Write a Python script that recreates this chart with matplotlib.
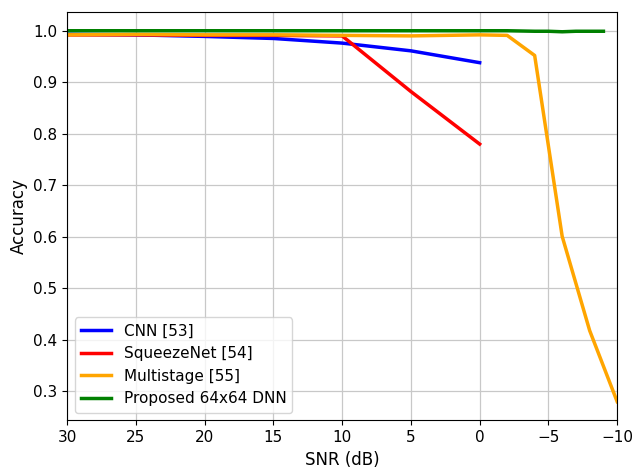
import matplotlib
matplotlib.use("Agg")
import matplotlib.pyplot as plt

snr_cnn = [30, 25, 20, 15, 10, 5, 0]
acc_cnn = [0.993, 0.992, 0.989, 0.985, 0.976, 0.961, 0.938]

snr_squeeze = [30, 25, 20, 15, 10, 5, 0]
acc_squeeze = [0.992, 0.992, 0.991, 0.991, 0.990, 0.882, 0.780]

snr_multi = [30, 25, 20, 15, 10, 5, 0, -2, -4, -6, -8, -10]
acc_multi = [0.992, 0.993, 0.992, 0.992, 0.991, 0.990, 0.992, 0.991, 0.952, 0.601, 0.418, 0.280]

snr_prop = [30, 25, 20, 15, 10, 5, 0, -2, -4, -5, -6, -7, -8, -9]
acc_prop = [1.0, 1.0, 1.0, 1.0, 1.0, 1.0, 1.0, 1.0, 0.999, 0.999, 0.998, 0.999, 0.999, 0.999]

fig = plt.figure(figsize=(6.33, 4.69), dpi=100)
ax = fig.add_axes([0.106, 0.104, 0.869, 0.870])

ax.plot(snr_cnn, acc_cnn, color="blue", lw=2.5, label="CNN [53]")
ax.plot(snr_squeeze, acc_squeeze, color="red", lw=2.5, label="SqueezeNet [54]")
ax.plot(snr_multi, acc_multi, color="orange", lw=2.5, label="Multistage [55]")
ax.plot(snr_prop, acc_prop, color="green", lw=2.5, label="Proposed 64x64 DNN")

ax.set_xlim(30, -10)
ax.set_xticks([30, 25, 20, 15, 10, 5, 0, -5, -10])
ax.set_xticklabels(["30", "25", "20", "15", "10", "5", "0", "\u22125", "\u221210"])
ax.grid(True, color="#c8c8c8", lw=0.9)
ax.tick_params(labelsize=11)
ax.set_xlabel("SNR (dB)", fontsize=12)
ax.set_ylabel("Accuracy", fontsize=12)
ax.legend(loc="lower left", fontsize=11)

fig.savefig("out.png", dpi=100)
